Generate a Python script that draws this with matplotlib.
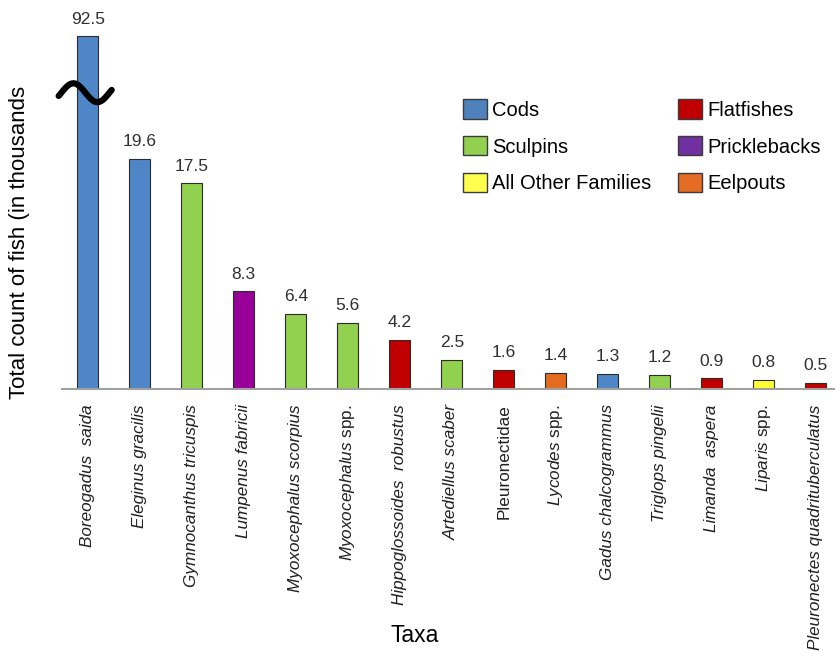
import matplotlib.pyplot as plt
from matplotlib.patches import Patch
import numpy as np

plt.rcParams['font.family'] = ['Liberation Sans', 'DejaVu Sans']
plt.rcParams['mathtext.fontset'] = 'custom'
plt.rcParams['mathtext.rm'] = 'Liberation Sans'
plt.rcParams['mathtext.it'] = 'Liberation Sans:italic'

# data (thousands of fish)
taxa = ['Boreogadus  saida', 'Eleginus gracilis', 'Gymnocanthus tricuspis',
        'Lumpenus fabricii', 'Myoxocephalus scorpius', r'$\mathit{Myoxocephalus}$ spp.',
        'Hippoglossoides  robustus', 'Artediellus scaber', 'Pleuronectidae',
        r'$\mathit{Lycodes}$ spp.', 'Gadus chalcogrammus', 'Triglops pingelii',
        'Limanda  aspera', r'$\mathit{Liparis}$ spp.', 'Pleuronectes quadrituberculatus']
italic = [True, True, True, True, True, False, True, True, False,
          False, True, True, True, False, True]
counts = [92.5, 19.6, 17.5, 8.3, 6.4, 5.6, 4.2, 2.5, 1.6, 1.4, 1.3, 1.2, 0.9, 0.8, 0.5]
family = ['Cods', 'Cods', 'Sculpins', 'Pricklebacks', 'Sculpins', 'Sculpins',
          'Flatfishes', 'Sculpins', 'Flatfishes', 'Eelpouts', 'Cods', 'Sculpins',
          'Flatfishes', 'All Other Families', 'Flatfishes']

bar_colors = {'Cods': '#4F86C8', 'Sculpins': '#92D050', 'Pricklebacks': '#990099',
              'Flatfishes': '#C00000', 'Eelpouts': '#E36C1F',
              'All Other Families': '#FFFF33'}
legend_colors = {'Cods': '#4F81BD', 'Sculpins': '#92D050',
                 'All Other Families': '#FFFF4D', 'Flatfishes': '#C00000',
                 'Pricklebacks': '#7030A0', 'Eelpouts': '#E46C25'}
legend_order = ['Cods', 'Sculpins', 'All Other Families',
                'Flatfishes', 'Pricklebacks', 'Eelpouts']

CAP = 30.0  # broken axis: tallest bar drawn cut off

fig = plt.figure(figsize=(8.35, 6.61), dpi=100)
ax = fig.add_axes([0.074, 0.4115, 0.926, 0.5585])

x = np.arange(len(taxa))
heights = [min(c, CAP) for c in counts]
cols = [bar_colors[f] for f in family]
ax.bar(x, heights, width=0.4, color=cols, edgecolor='#2b2b2b', linewidth=0.8, zorder=2)

for xi, h, c in zip(x, heights, counts):
    ax.annotate(f'{c:.1f}', (xi, h), xytext=(0, 7), textcoords='offset points',
                ha='center', va='bottom', fontsize=12.5, color='#303030')

ax.set_xlim(-0.5, 14.37)
ax.set_ylim(0, 31.4)
ax.set_xticks(x)
ax.set_xticklabels(taxa, rotation=90, fontsize=12.3, color='#202020')
for lbl, it in zip(ax.get_xticklabels(), italic):
    if it:
        lbl.set_fontstyle('italic')
ax.tick_params(axis='x', length=0, pad=11)
ax.set_yticks([])
for s in ['top', 'right', 'left']:
    ax.spines[s].set_visible(False)
ax.spines['bottom'].set_color('#a0a0a0')
ax.spines['bottom'].set_linewidth(1.5)

# axis break mark on the tallest bar
t = np.linspace(-0.35, 2 * np.pi + 0.3, 100)
ax.plot(-0.56 + (t + 0.35) / (2 * np.pi + 0.65) * 1.02, 25.2 + 0.8 * np.sin(t),
        color='black', lw=4.5, solid_capstyle='round', clip_on=False, zorder=5)

handles = [Patch(facecolor=legend_colors[k], edgecolor='#3a3a3a', label=k)
           for k in legend_order]
fig.legend(handles=handles, loc='upper left', bbox_to_anchor=(0.533, 0.877),
           ncol=2, frameon=False, fontsize=14.5, handlelength=1.2, handleheight=1.1,
           labelspacing=0.8, handletextpad=0.25, columnspacing=1.3)

fig.text(20 / 835, 1 - 242 / 661, 'Total count of fish (in thousands', rotation=90,
         ha='center', va='center', fontsize=16)
fig.text(415 / 835, 1 - 635 / 661, 'Taxa', ha='center', va='center', fontsize=16.5)

fig.savefig('out.png', dpi=100)
